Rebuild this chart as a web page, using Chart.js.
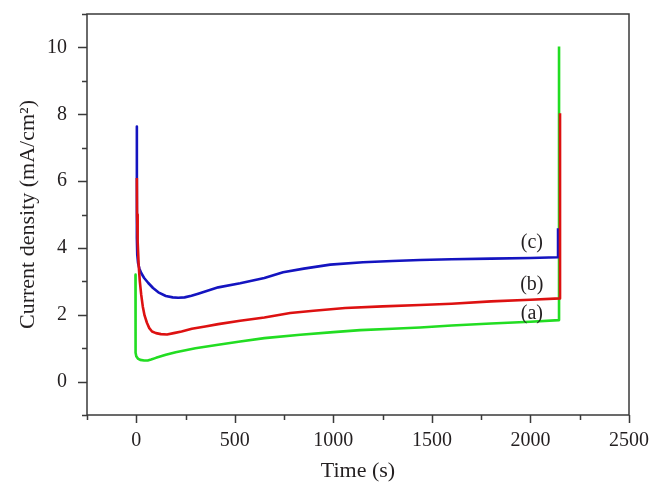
<!DOCTYPE html>
<html><head><meta charset="utf-8">
<script src="https://cdn.jsdelivr.net/npm/chart.js@4/dist/chart.umd.min.js"></script>
<style>html,body{margin:0;padding:0;background:#fff}#wrap{width:662px;height:497px}</style>
</head><body><div id="wrap"><canvas id="c" width="662" height="497"></canvas></div>
<script>
// Series (a) green
const timeA = [-4, -4, -3, 0, 8, 20, 40, 58, 75, 100, 150, 200, 300, 416, 527, 650, 832, 1000, 1136, 1300, 1440, 1600, 1800, 2000, 2145, 2145];
const valA  = [3.2, 1.0, 0.86, 0.76, 0.69, 0.65, 0.63, 0.63, 0.66, 0.71, 0.8, 0.88, 1.0, 1.1, 1.2, 1.3, 1.4, 1.48, 1.54, 1.58, 1.62, 1.68, 1.74, 1.79, 1.84, 10.03];
// Series (b) red
const timeB = [3, 4, 7, 12, 18, 25, 33, 42, 54, 66, 80, 100, 125, 156, 190, 230, 282, 350, 416, 527, 650, 781, 900, 1060, 1250, 1440, 1600, 1800, 2000, 2150, 2150];
const valB  = [6.09, 5.0, 4.2, 3.5, 3.0, 2.6, 2.25, 1.98, 1.76, 1.6, 1.5, 1.45, 1.42, 1.41, 1.45, 1.5, 1.58, 1.65, 1.72, 1.82, 1.92, 2.05, 2.12, 2.2, 2.25, 2.29, 2.33, 2.4, 2.45, 2.49, 8.03];
// Series (c) blue
const timeC = [3, 3, 5, 9, 16, 25, 40, 61, 85, 112, 150, 185, 213, 245, 280, 314, 416, 527, 650, 745, 850, 984, 1150, 1300, 1440, 1600, 1800, 2000, 2140, 2140];
const valC  = [7.63, 4.3, 3.8, 3.55, 3.38, 3.25, 3.1, 2.95, 2.8, 2.67, 2.56, 2.52, 2.51, 2.52, 2.57, 2.63, 2.82, 2.94, 3.1, 3.27, 3.38, 3.5, 3.57, 3.61, 3.64, 3.66, 3.68, 3.7, 3.72, 4.59];

const seriesNames = ['(a)', '(b)', '(c)'];
const labelAt = [[2007, 2.04], [2007, 2.9], [2007, 4.14]];
const xTickLabels = [0, 500, 1000, 1500, 2000, 2500];
const yTickLabels = [0, 2, 4, 6, 8, 10];

const pts = (t, v) => t.map((x, i) => ({x: x, y: v[i]}));
const FONT = '"Liberation Serif", "Times New Roman", serif';
const INK = '#231f20';

const framePlugin = {
  id: 'frame',
  afterDraw(chart) {
    const ctx = chart.ctx, a = chart.chartArea;
    const xs = chart.scales.x, ys = chart.scales.y;
    ctx.save();
    ctx.strokeStyle = '#3a3a3a';
    ctx.lineWidth = 1.5;
    ctx.strokeRect(a.left, a.top, a.right - a.left, a.bottom - a.top);
    ctx.beginPath();
    xs.ticks.forEach(t => {
      const px = Math.round(xs.getPixelForValue(t.value)) + 0.5;
      const len = (t.value % 500 === 0) ? 8 : 5;
      ctx.moveTo(px, a.bottom); ctx.lineTo(px, a.bottom + len);
    });
    ys.ticks.forEach(t => {
      const py = Math.round(ys.getPixelForValue(t.value)) + 0.5;
      const len = (t.value % 2 === 0) ? 9 : 5;
      ctx.moveTo(a.left, py); ctx.lineTo(a.left - len, py);
    });
    ctx.stroke();
    ctx.fillStyle = INK;
    ctx.font = '20px ' + FONT;
    ctx.textAlign = 'center';
    ctx.textBaseline = 'middle';
    seriesNames.forEach((n, i) => {
      ctx.fillText(n, xs.getPixelForValue(labelAt[i][0]), ys.getPixelForValue(labelAt[i][1]));
    });
    ctx.restore();
  }
};

new Chart(document.getElementById('c'), {
  type: 'scatter',
  data: {
    datasets: [
      {label: '(a)', data: pts(timeA, valA), borderColor: '#22dd22', order: 2},
      {label: '(c)', data: pts(timeC, valC), borderColor: '#1414c0', order: 1},
      {label: '(b)', data: pts(timeB, valB), borderColor: '#dd1111', order: 0}
    ].map(d => Object.assign(d, {showLine: true, pointRadius: 0, borderWidth: 2.6, tension: 0, fill: false, borderJoinStyle: 'round'}))
  },
  options: {
    responsive: false,
    animation: false,
    events: [],
    layout: {padding: {left: 0, top: 14, right: 33, bottom: 0}},
    plugins: {legend: {display: false}, tooltip: {enabled: false}},
    scales: {
      x: {
        type: 'linear', min: -250, max: 2500,
        border: {display: false},
        grid: {display: false, drawTicks: false},
        ticks: {stepSize: 250, padding: 14, color: INK, font: {family: FONT, size: 20},
          maxRotation: 0, autoSkip: false,
          callback: v => xTickLabels.includes(v) ? String(v) : ''},
        title: {display: true, text: 'Time (s)', color: INK, font: {family: FONT, size: 22}, padding: {top: 0, bottom: 13}},
        afterFit: s => { s.height = 82; s.paddingLeft = 0; s.paddingRight = 0; }
      },
      y: {
        type: 'linear', min: -1, max: 11,
        border: {display: false},
        grid: {display: false, drawTicks: false},
        ticks: {stepSize: 1, padding: 20, color: INK, font: {family: FONT, size: 20}, autoSkip: false,
          callback: v => yTickLabels.includes(v) ? String(v) : ''},
        title: {display: true, text: 'Current density (mA/cm²)', color: INK, font: {family: FONT, size: 22}, padding: {top: 15, bottom: 0}},
        afterFit: s => { s.width = 87; s.paddingTop = 0; s.paddingBottom = 0; }
      }
    }
  },
  plugins: [framePlugin]
});
</script>
</body></html>
